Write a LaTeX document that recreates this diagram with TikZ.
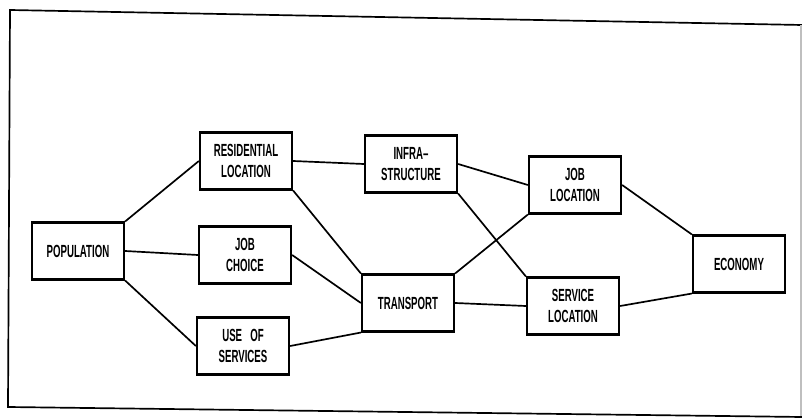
\documentclass[tikz,border=0pt]{standalone}
\usepackage{fontspec}
\setmainfont{Liberation Sans}[FakeStretch=0.55]

\begin{document}
\begin{tikzpicture}[x=0.025cm, y=-0.025cm,
    block/.style={draw, line width=1.6pt, minimum width=2.3cm, minimum height=1.42cm,
      align=center, font=\bfseries\fontsize{12.5}{15.5}\selectfont},
    link/.style={line width=1.2pt}]
  \useasboundingbox (0,0) rectangle (802,418);
  % frame of the scanned page
  \draw[line width=1.2pt] (802,25) -- (10,10) -- (8,407) -- (802,417);
  \draw[black!25, line width=0.8pt] (801,25) -- (801,416);

  \node[block] (population) at (78,251) {POPULATION};
  \node[block] (residential) at (246,161) {RESIDENTIAL\\LOCATION};
  \node[block] (jobchoice) at (245,255) {JOB\\CHOICE};
  \node[block] (services) at (243,346) {USE\ \ \ OF\\SERVICES};
  \node[block] (infra) at (411,164) {INFRA--\\STRUCTURE};
  \node[block] (transport) at (408,303) {TRANSPORT};
  \node[block] (jobloc) at (575,185) {JOB\\LOCATION};
  \node[block] (servloc) at (573,306) {SERVICE\\LOCATION};
  \node[block] (economy) at (739,264) {ECONOMY};

  \draw[link] (population.north east) -- (residential.west);
  \draw[link] (population.east) -- (jobchoice.west);
  \draw[link] (population.south east) -- (services.west);
  \draw[link] (residential.east) -- (infra.west);
  \draw[link] (residential.south east) -- (transport.north west);
  \draw[link] (jobchoice.east) -- (transport.west);
  \draw[link] (services.east) -- (transport.south west);
  \draw[link] (infra.east) -- (jobloc.west);
  \draw[link] (infra.south east) -- (servloc.north west);
  \draw[link] (transport.north east) -- (jobloc.south west);
  \draw[link] (transport.east) -- (servloc.west);
  \draw[link] (jobloc.east) -- (economy.north west);
  \draw[link] (servloc.east) -- (economy.south west);
\end{tikzpicture}
\end{document}
